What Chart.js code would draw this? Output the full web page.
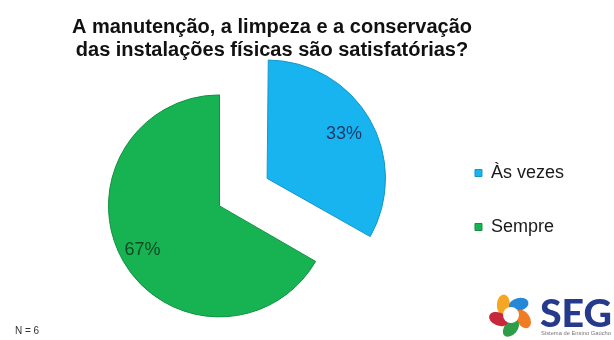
<!DOCTYPE html>
<html lang="pt-BR">
<head>
  <meta charset="UTF-8">
  <title>Manutenção das instalações</title>
  <script src="https://cdn.jsdelivr.net/npm/chart.js"></script>
  <style>
    body { margin: 0; background: #fff; font-family: "Liberation Sans", Arial, sans-serif; }
    #wrap { position: relative; width: 614px; height: 340px; overflow: hidden; }
    #pieChart { position: absolute; left: 0; top: 0; }
    #nota { position: absolute; left: 15px; top: 325px; font-size: 10px; color: #333; }
    #logo { position: absolute; left: 486px; top: 288px; }
  </style>
</head>
<body>
  <div id="wrap">
    <canvas id="pieChart" width="614" height="340"></canvas>
    <div id="nota"></div>
    <svg id="logo" width="128" height="52" viewBox="0 0 128 52">
      <g transform="translate(25 27)">
        <ellipse cx="0" cy="-13" rx="6.5" ry="10" fill="#f5a623" transform="rotate(-36) rotate(40 0 -13)"/>
        <ellipse cx="0" cy="-13" rx="6.5" ry="10" fill="#2488d6" transform="rotate(36) rotate(40 0 -13)"/>
        <ellipse cx="0" cy="-13" rx="6.5" ry="10" fill="#f07c24" transform="rotate(108) rotate(40 0 -13)"/>
        <ellipse cx="0" cy="-13" rx="6.5" ry="10" fill="#2c9e49" transform="rotate(180) rotate(40 0 -13)"/>
        <ellipse cx="0" cy="-13" rx="6.5" ry="10" fill="#c8283b" transform="rotate(252) rotate(40 0 -13)"/>
        <circle cx="0" cy="0" r="8" fill="#fff"/>
      </g>
      <text x="54" y="39" font-family="Lato, 'Liberation Sans', sans-serif" font-weight="900" font-size="37" fill="#263a8c" textLength="72" lengthAdjust="spacingAndGlyphs">SEG</text>
      <text x="55" y="47" font-family="'Liberation Sans', Arial, sans-serif" font-size="5.5" fill="#777" textLength="70" lengthAdjust="spacingAndGlyphs">Sistema de Ensino Gaúcho</text>
    </svg>
  </div>

  <script>
    const titulo = ['A manutenção, a limpeza e a conservação', 'das instalações físicas são satisfatórias?'];
    const categorias = ['Às vezes', 'Sempre'];
    const respostas = [2, 4];
    const cores = ['#17b4ef', '#17b352'];
    const bordas = ['#1596c8', '#10913f'];
    const coresRotulo = ['#1b3a6b', '#0f4a24'];

    const total = respostas.reduce((a, b) => a + b, 0);
    document.getElementById('nota').textContent = `N = ${total}`;

    const fonteTexto = '"Liberation Sans", Arial, sans-serif';

    // percentuais dentro das fatias
    const rotulosPct = {
      id: 'rotulosPct',
      afterDatasetsDraw(chart) {
        const ctx = chart.ctx;
        const meta = chart.getDatasetMeta(0);
        ctx.save();
        ctx.font = '18px ' + fonteTexto;
        ctx.textAlign = 'center';
        ctx.textBaseline = 'middle';
        meta.data.forEach((arc, i) => {
          const { x, y, startAngle, endAngle, outerRadius } =
            arc.getProps(['x', 'y', 'startAngle', 'endAngle', 'outerRadius'], true);
          const meio = (startAngle + endAngle) / 2;
          const r = (arc.options.offset || 0) / 4 + outerRadius * 0.8;
          ctx.fillStyle = coresRotulo[i];
          ctx.fillText(Math.round(respostas[i] / total * 100) + '%',
            x + Math.cos(meio) * r, y + Math.sin(meio) * r);
        });
        ctx.restore();
      }
    };

    new Chart(document.getElementById('pieChart'), {
      type: 'pie',
      data: {
        labels: categorias,
        datasets: [{
          data: respostas,
          backgroundColor: cores,
          borderColor: bordas,
          borderWidth: 1,
          offset: [220, 0]
        }]
      },
      options: {
        responsive: false,
        animation: false,
        events: [],
        radius: 111,
        // padding negativo: o título e a legenda usam o valor bruto, a área do gráfico não
        layout: { padding: { left: -30, right: 40, top: 0, bottom: -60 } },
        plugins: {
          title: {
            display: true,
            text: titulo,
            color: '#111',
            font: { family: fonteTexto, size: 20, weight: 'bold', lineHeight: 1.12 },
            padding: { top: 16.5, bottom: 10.5 }
          },
          legend: {
            position: 'right',
            labels: {
              boxWidth: 7,
              boxHeight: 7,
              padding: 36,
              color: '#1a1a1a',
              font: { family: fonteTexto, size: 18 }
            }
          },
          tooltip: { enabled: false }
        }
      },
      plugins: [rotulosPct]
    });
  </script>
</body>
</html>
